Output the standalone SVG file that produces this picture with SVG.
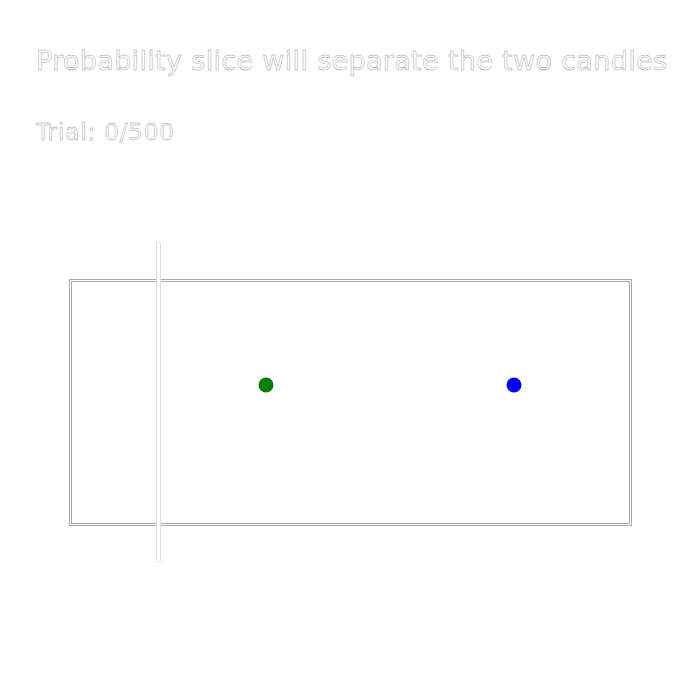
<svg xmlns="http://www.w3.org/2000/svg" width="700" height="700" viewBox="0 0 700 700">
<style>
text{font-family:"DejaVu Sans",sans-serif;fill:#fff;stroke:#999;stroke-width:0.45}
</style>
<rect width="700" height="700" fill="#fff"/>
<text x="36" y="70" font-size="27" textLength="631" lengthAdjust="spacing">Probability slice will separate the two candles</text>
<text x="36" y="140" font-size="23" textLength="138" lengthAdjust="spacing">Trial: 0/500</text>
<g id="box">
<rect x="70.5" y="280.5" width="560" height="244" fill="none" stroke="#aaa" stroke-width="3"/>
<rect x="70.5" y="280.5" width="560" height="244" fill="none" stroke="#fff" stroke-width="1"/>
</g>
<g id="connectors"></g>
<g id="slice">
<rect x="156.5" y="242.5" width="4" height="319" rx="1" fill="#fff" stroke="#ddd" stroke-width="1"/>
</g>
<g id="candle1"><circle cx="266" cy="385" r="7.5" fill="#008000"/></g>
<g id="candle2"><circle cx="514" cy="385" r="7.5" fill="#0000ff"/></g>
</svg>
